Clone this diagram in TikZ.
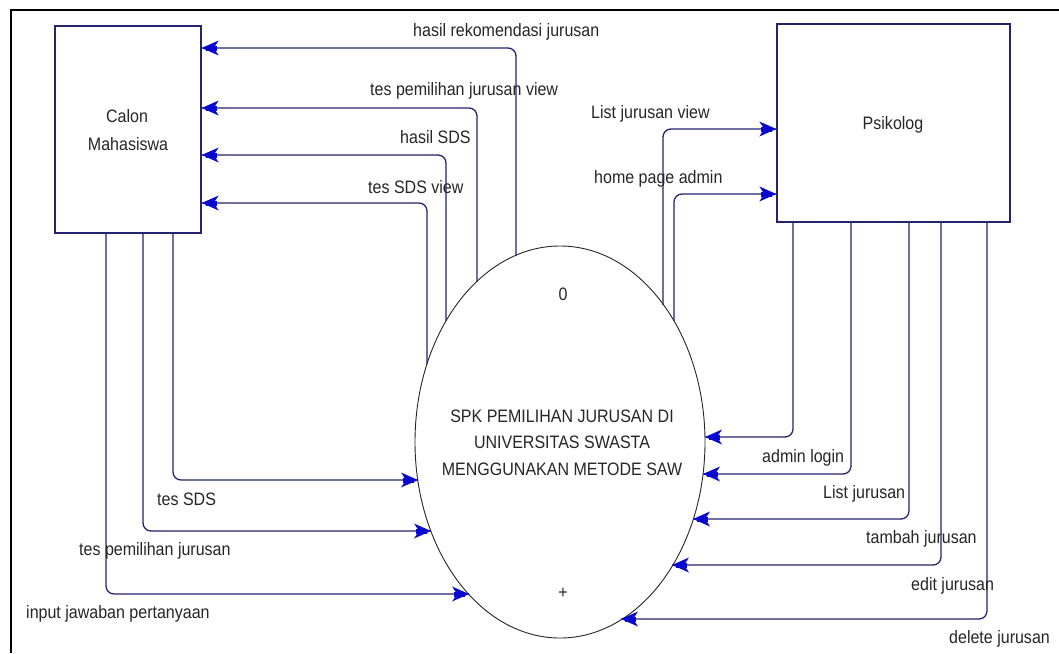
\documentclass[tikz,border=0pt]{standalone}
\usepackage{fontspec}
\setmainfont{Liberation Sans}[FakeStretch=0.89]
\usetikzlibrary{shapes.geometric}
\definecolor{linenavy}{HTML}{23236E}
\definecolor{tipblue}{HTML}{0808D0}
\begin{document}
\begin{tikzpicture}[x=1pt,y=-1pt,
  font=\fontsize{18}{21}\selectfont,
  entity/.style={draw=linenavy, line width=1.4pt, rectangle, inner sep=0pt},
  proc/.style={draw=black!85, line width=0.9pt, ellipse, inner sep=0pt, minimum width=290pt, minimum height=392pt},
  flow/.style={draw=linenavy, line width=1.3pt, rounded corners=8pt},
  dart/.pic={\fill[tipblue] (0,0) -- (-17,-7.5) -- (-12,0) -- (-17,7.5) -- cycle;
             \fill[tipblue] (-4,-2.5) rectangle (-15,2.5);},
  lbl/.style={anchor=base west, inner sep=0pt, text=black!85},
  ctext/.style={anchor=base, inner sep=0pt, text=black!85}]
\useasboundingbox (0,0) rectangle (1059,653);
\fill[white] (0,0) rectangle (1059,653);
% frame
\draw[black, line width=2pt] (11,653) -- (11,10) -- (1059,10);

% entities
\node[entity, minimum width=146pt, minimum height=207pt] (C) at (128,129.5) {};
\node[ctext] (ct1) at (127,122) {Calon};
\node[ctext] (ct2) at (128,150) {Mahasiswa};
\node[entity, minimum width=233pt, minimum height=198pt] (K) at (893.5,123) {};
\node[ctext] (kt) at (893,129) {Psikolog};

% process
\node[proc] (P) at (560,442) {};
\node[ctext] (p0) at (563,300) {0};
\node[ctext] (p1) at (562,422) {SPK PEMILIHAN JURUSAN DI};
\node[ctext] (p2) at (562,448) {UNIVERSITAS SWASTA};
\node[ctext] (p3) at (562,475) {MENGGUNAKAN METODE SAW};
\node[ctext] (pp) at (563,598) {+};

% points on the ellipse border
\coordinate (e1) at (516,256);
\coordinate (e2) at (477,282);
\coordinate (e3) at (446,321);
\coordinate (e4) at (427,364);
\coordinate (e5) at (663,305);
\coordinate (e6) at (674,321);
\coordinate (l1) at (418,480);
\coordinate (l2) at (431,531);
\coordinate (l3) at (469,594);
\coordinate (r1) at (705,437);
\coordinate (r2) at (703,474);
\coordinate (r3) at (693,519);
\coordinate (r4) at (672,565);
\coordinate (r5) at (621,619);

% end points on the entity borders
\coordinate (c1) at (C.east |- 0,48);
\coordinate (c2) at (C.east |- 0,108);
\coordinate (c3) at (C.east |- 0,155);
\coordinate (c4) at (C.east |- 0,203);
\coordinate (k1) at (K.west |- 0,129);
\coordinate (k2) at (K.west |- 0,194);

% flows to Calon Mahasiswa
\draw[flow] (e1) |- (c1);  \pic[rotate=180] at (c1) {dart};
\draw[flow] (e2) |- (c2);  \pic[rotate=180] at (c2) {dart};
\draw[flow] (e3) |- (c3);  \pic[rotate=180] at (c3) {dart};
\draw[flow] (e4) |- (c4);  \pic[rotate=180] at (c4) {dart};
% flows from Calon Mahasiswa
\draw[flow] (C.south -| 173,0) |- (l1);  \pic at (l1) {dart};
\draw[flow] (C.south -| 143,0) |- (l2);  \pic at (l2) {dart};
\draw[flow] (C.south -| 106,0) |- (l3);  \pic at (l3) {dart};
% flows to Psikolog
\draw[flow] (e5) |- (k1);  \pic at (k1) {dart};
\draw[flow] (e6) |- (k2);  \pic at (k2) {dart};
% flows from Psikolog
\draw[flow] (K.south -| 793,0) |- (r1);  \pic[rotate=180] at (r1) {dart};
\draw[flow] (K.south -| 851,0) |- (r2);  \pic[rotate=180] at (r2) {dart};
\draw[flow] (K.south -| 909,0) |- (r3);  \pic[rotate=180] at (r3) {dart};
\draw[flow] (K.south -| 941,0) |- (r4);  \pic[rotate=180] at (r4) {dart};
\draw[flow] (K.south -| 987,0) |- (r5);  \pic[rotate=180] at (r5) {dart};

% labels
\node[lbl] (t1) at (413,36) {hasil rekomendasi jurusan};
\node[lbl] (t2) at (370,95) {tes pemilihan jurusan view};
\node[lbl] (t3) at (400,143) {hasil SDS};
\node[lbl] (t4) at (368,193) {tes SDS view};
\node[lbl] (t5) at (591,118) {List jurusan view};
\node[lbl] (t6) at (594,183) {home page admin};
\node[lbl] (t7) at (157,505) {tes SDS};
\node[lbl] (t8) at (79,555) {tes pemilihan jurusan};
\node[lbl] (t9) at (26,618) {input jawaban pertanyaan};
\node[lbl] (t10) at (762,462) {admin login};
\node[lbl] (t11) at (823,498) {List jurusan};
\node[lbl] (t12) at (866,543) {tambah jurusan};
\node[lbl] (t13) at (911,590) {edit jurusan};
\node[lbl] (t14) at (949,643) {delete jurusan};
\end{tikzpicture}
\end{document}
